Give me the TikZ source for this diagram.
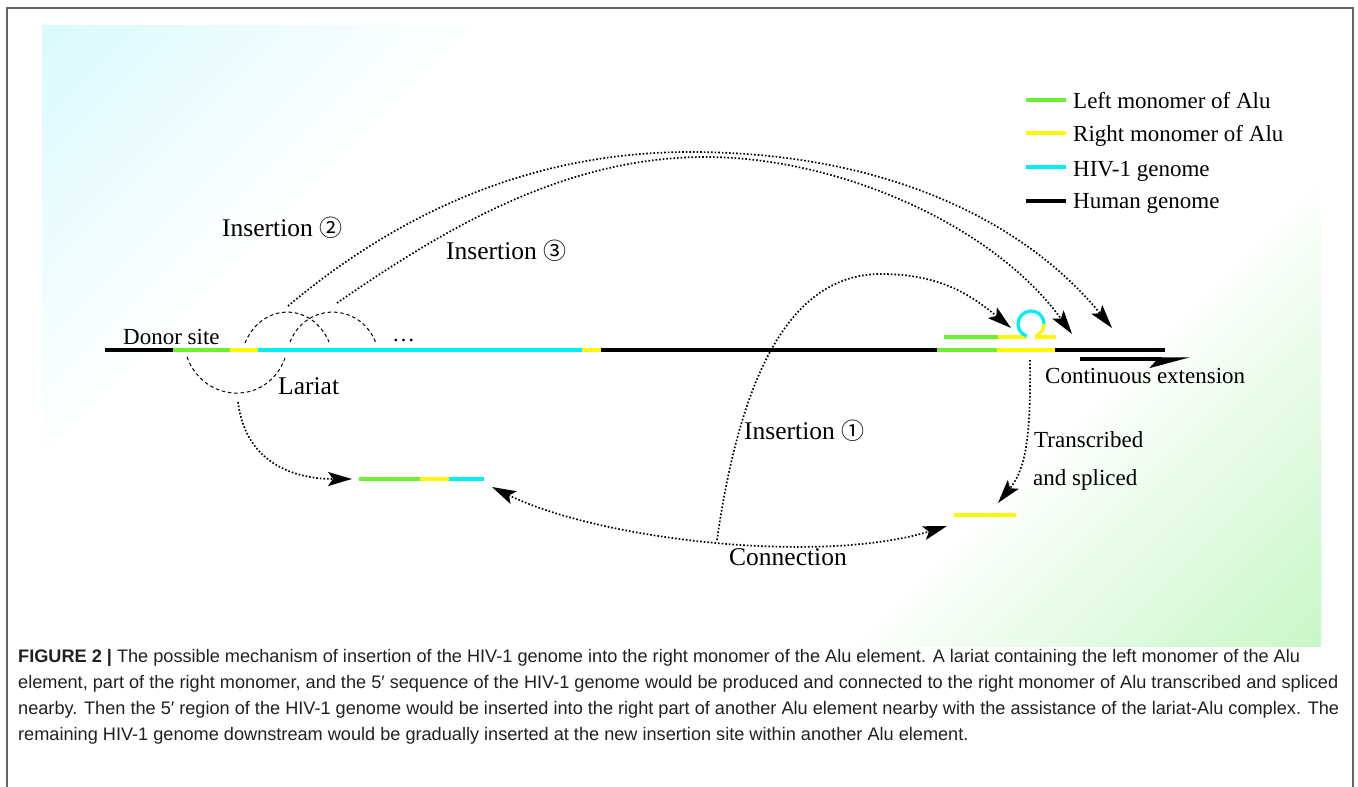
\documentclass[tikz,border=0pt]{standalone}
\usepackage{fontspec}
\setmainfont{Liberation Serif}
\newfontfamily\capfont{Liberation Sans}
\newfontfamily\circfont{Noto Sans CJK SC}
\usetikzlibrary{arrows.meta}

\definecolor{alugreen}{RGB}{110,240,50}
\definecolor{aluyellow}{RGB}{255,248,0}
\definecolor{hivcyan}{RGB}{0,238,250}
\definecolor{bgcyan}{RGB}{218,250,253}
\definecolor{bggreen}{RGB}{200,247,200}
\definecolor{framegray}{RGB}{100,100,100}
\definecolor{captext}{RGB}{35,31,32}

\tikzset{
  seg/.style={line width=3.2pt},
  human/.style={seg, black},
  leftalu/.style={seg, alugreen},
  rightalu/.style={seg, aluyellow},
  hiv/.style={seg, hivcyan},
  dotline/.style={line width=1.7pt, dash pattern=on 1.6pt off 2pt},
  lariatline/.style={line width=1pt, dash pattern=on 3.5pt off 2.8pt},
  head/.style={Stealth[length=24pt,width=14pt,inset=5pt]},
  tip/.style={-{Stealth[length=24pt,width=14pt,inset=5pt]}},
  bothtips/.style={{Stealth[length=24pt,width=14pt,inset=5pt]}-{Stealth[length=24pt,width=14pt,inset=5pt]}},
  lbl/.style={font=\fontsize{23}{27}\selectfont, anchor=base west, inner sep=0pt},
  biglbl/.style={font=\fontsize{25.5}{30}\selectfont, anchor=base west, inner sep=0pt},
  capline/.style={font=\capfont\fontsize{18.15}{22}\selectfont, text=captext, anchor=base west, inner sep=0pt},
}
\newcommand{\circnum}[1]{{\circfont\fontsize{23}{23}\selectfont #1}}

\begin{document}
\begin{tikzpicture}[x=1pt,y=-1pt]
\useasboundingbox (0,0) rectangle (1358,787);

% panel with a cyan tint in the upper left and a green tint in the lower right
\begin{scope}
  \clip (42,25) rectangle (1321,646);
  \fill[white] (42,25) rectangle (1321,646);
  \foreach \i in {0,...,39}{
    \pgfmathsetmacro\ua{67+\i*11}
    \pgfmathsetmacro\ub{\ua+13}
    \pgfmathsetmacro\pc{100-\i*2.5}
    \fill[bgcyan!\pc!white] (\ua+100,-100) -- (\ub+100,-100) -- (\ub-800,800) -- (\ua-800,800) -- cycle;
  }
  \foreach \i in {0,...,39}{
    \pgfmathsetmacro\ua{1967-\i*12}
    \pgfmathsetmacro\ub{\ua-14}
    \pgfmathsetmacro\pc{100-\i*2.5}
    \fill[bggreen!\pc!white] (\ua+100,-100) -- (\ub+100,-100) -- (\ub-800,800) -- (\ua-800,800) -- cycle;
  }
\end{scope}

% frame
\draw[framegray, line width=1.8pt] (7,787) -- (7,8) -- (1353,8) -- (1353,787);

% legend
\coordinate (lg0a) at (1026,100); \coordinate (lg0b) at (1066,100);
\coordinate (lg1a) at (1026,133); \coordinate (lg1b) at (1066,133);
\coordinate (lg2a) at (1026,167); \coordinate (lg2b) at (1066,167);
\coordinate (lg3a) at (1026,201); \coordinate (lg3b) at (1066,201);
\draw[leftalu] (lg0a) -- (lg0b);
\draw[rightalu] (lg1a) -- (lg1b);
\draw[hiv] (lg2a) -- (lg2b);
\draw[human] (lg3a) -- (lg3b);
\node[lbl] (lgt0) at (1073,108) {Left monomer of Alu};
\node[lbl] (lgt1) at (1073,141) {Right monomer of Alu};
\node[lbl] (lgt2) at (1073,176) {HIV-1 genome};
\node[lbl] (lgt3) at (1073,208) {Human genome};

% donor chromosome
\coordinate (h0) at (105,350);
\coordinate (g1) at (173,350);
\coordinate (y1) at (230,350);
\coordinate (c1) at (258,350);
\coordinate (c2) at (582,350);
\coordinate (y2) at (601,350);
\coordinate (g2) at (937,350);
\coordinate (y3) at (997,350);
\coordinate (h3) at (1055,350);
\coordinate (h4) at (1165,350);
\draw[human] (h0) -- (g1);
\draw[leftalu] (g1) -- (y1);
\draw[rightalu] (y1) -- (c1);
\draw[hiv] (c1) -- (c2);
\draw[rightalu] (c2) -- (y2);
\draw[human] (y2) -- (g2);
\draw[leftalu] (g2) -- (y3);
\draw[rightalu] (y3) -- (h3);
\draw[human] (h3) -- (h4);

% lariat-Alu complex above the target Alu
\coordinate (u0) at (944,337);
\coordinate (u1) at (998,337);
\coordinate (u2) at (1027,337);
\coordinate (u3) at (1035,337);
\coordinate (u4) at (1056,337);
\coordinate (loopc) at (1031,324);
\draw[leftalu] (u0) -- (u1);
\draw[rightalu] (u1) -- (u2);
\draw[rightalu] (u3) -- (u4);
\draw[hiv] (loopc) ++(110:13) arc[start angle=110, end angle=360, radius=13];
\draw[rightalu] (loopc) ++(0:13) arc[start angle=0, end angle=70, radius=13];

% continuous extension arrow
\coordinate (ext0) at (1080,359);
\coordinate (ext1) at (1190,359);
\draw[line width=3.4pt, -{Stealth[harpoon,swap,length=34pt,width=18pt,inset=8pt]}] (ext0) -- (ext1);

% lariat fragment and spliced right monomer
\coordinate (f0) at (359,479);
\coordinate (f1) at (420,479);
\coordinate (f2) at (449,479);
\coordinate (f3) at (484,479);
\draw[leftalu] (f0) -- (f1);
\draw[rightalu] (f1) -- (f2);
\draw[hiv] (f2) -- (f3);
\coordinate (s0) at (954,515);
\coordinate (s1) at (1016,515);
\draw[rightalu] (s0) -- (s1);

% lariat loops (dashed)
\coordinate (la0) at (187,357); \coordinate (la1) at (285,358);
\draw[lariatline] (la0) .. controls (205,405) and (268,405) .. (la1);
\coordinate (lb0) at (245,343); \coordinate (lb1) at (329,342);
\draw[lariatline] (lb0) .. controls (262,302) and (312,302) .. (lb1);
\coordinate (lc0) at (290,342); \coordinate (lc1) at (376,343);
\draw[lariatline] (lc0) .. controls (306,302) and (360,302) .. (lc1);

% dotted pathways
\coordinate (i2s) at (288,306); \coordinate (i2m) at (690,152); \coordinate (i2e) at (1112,328);
\draw[dotline, tip] (i2s) .. controls (388,222) and (520,152) .. (i2m)
  .. controls (880,152) and (1022,218) .. (i2e);
\coordinate (i3s) at (337,303); \coordinate (i3m) at (705,157); \coordinate (i3e) at (1072,334);
\draw[dotline, tip] (i3s) .. controls (437,234) and (560,157) .. (i3m)
  .. controls (840,157) and (994,226) .. (i3e);
\coordinate (i1s) at (717,540); \coordinate (i1m) at (881,274); \coordinate (i1e) at (1011,328);
\draw[dotline, tip] (i1s) .. controls (737,400) and (780,274) .. (i1m)
  .. controls (940,274) and (971,295) .. (i1e);
\coordinate (cn0) at (492,487); \coordinate (cn1) at (947,526);
\draw[dotline, bothtips] (cn0) .. controls (600,540) and (820,565) .. (cn1);
\coordinate (lr0) at (238,402); \coordinate (lr1) at (352,479);
\draw[dotline, tip] (lr0) .. controls (245,460) and (290,479) .. (lr1);
\coordinate (tr0) at (1030,360); \coordinate (tr1) at (998,503);
\draw[dotline, tip] (tr0) .. controls (1031,440) and (1025,470) .. (tr1);

% labels
\node[lbl] (donor) at (123,344) {Donor site};
\node[lbl] (dots) at (392,341) {…};
\node[biglbl] (lariat) at (278,394) {Lariat};
\node[biglbl] (ins2) at (222,236) {Insertion \circnum{②}};
\node[biglbl] (ins3) at (446,259) {Insertion \circnum{③}};
\node[biglbl] (ins1) at (744,439) {Insertion \circnum{①}};
\node[biglbl] (conn) at (729,565) {Connection};
\node[lbl] (cext) at (1045,383) {Continuous extension};
\node[lbl] (trs1) at (1034,447) {Transcribed};
\node[lbl] (trs2) at (1033,485) {and spliced};

% caption
\node[capline] (cap1) at (18,662) {{\bfseries FIGURE 2 |} The possible mechanism of insertion of the HIV-1 genome into the right monomer of the Alu element. A lariat containing the left monomer of the Alu};
\node[capline] (cap2) at (18,688) {element, part of the right monomer, and the 5′ sequence of the HIV-1 genome would be produced and connected to the right monomer of Alu transcribed and spliced};
\node[capline] (cap3) at (18,714) {nearby. Then the 5′ region of the HIV-1 genome would be inserted into the right part of another Alu element nearby with the assistance of the lariat-Alu complex. The};
\node[capline] (cap4) at (18,740) {remaining HIV-1 genome downstream would be gradually inserted at the new insertion site within another Alu element.};
\end{tikzpicture}
\end{document}
